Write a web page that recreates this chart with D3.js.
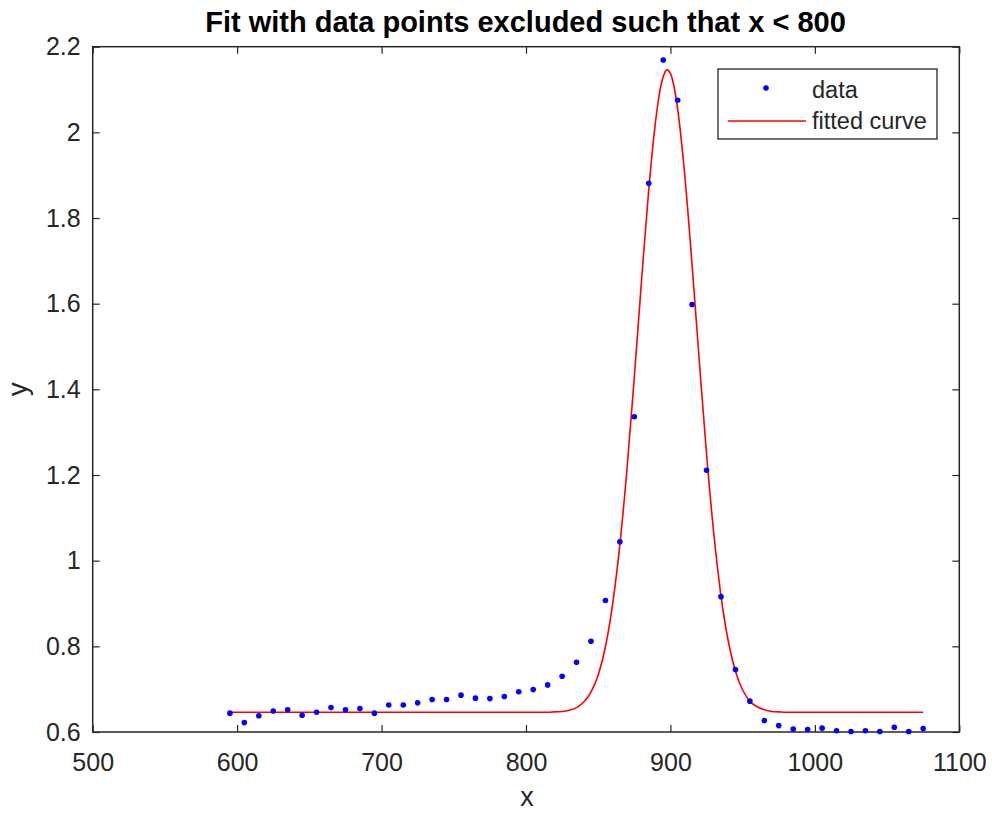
<!DOCTYPE html>
<html>
<head>
<meta charset="utf-8">
<script src="https://cdn.jsdelivr.net/npm/d3@7"></script>
<style>
  html, body { margin: 0; padding: 0; background: #ffffff; }
  svg { display: block; font-family: "Liberation Sans", Arial, Helvetica, sans-serif; }
</style>
</head>
<body>
<svg id="chart" width="992" height="813"></svg>
<script>
// ---- data ----
const dataX = [595, 605, 615, 625, 635, 645, 655, 665, 675, 685, 695, 705, 715, 725, 735, 745, 755, 765, 775, 785,
               795, 805, 815, 825, 835, 845, 855, 865, 875, 885, 895, 905, 915, 925, 935, 945, 955, 965, 975, 985,
               995, 1005, 1015, 1025, 1035, 1045, 1055, 1065, 1075];
const dataY = [0.644, 0.622, 0.638, 0.649, 0.652, 0.639, 0.646, 0.657, 0.652, 0.655, 0.644, 0.663, 0.663, 0.668, 0.676, 0.676, 0.686, 0.679, 0.678, 0.683,
               0.694, 0.699, 0.710, 0.730, 0.763, 0.812, 0.907, 1.044, 1.336, 1.881, 2.169, 2.075, 1.598, 1.211, 0.916, 0.746, 0.672, 0.627, 0.615, 0.607,
               0.606, 0.609, 0.603, 0.601, 0.603, 0.601, 0.611, 0.601, 0.608];

const fitX = [595, 700, 800, 810, 815, 820, 825, 830, 835, 840, 845, 850, 855, 860, 865, 870, 875, 880, 885, 890,
              892.5, 895, 897.5, 900, 902.5, 905, 910, 915, 920, 925, 930, 935, 940, 945, 950, 955, 960, 965, 970, 975,
              980, 985, 1000, 1075];
const fitY = [0.646, 0.646, 0.646, 0.646, 0.646, 0.647, 0.648, 0.651, 0.657, 0.670, 0.693, 0.733, 0.799, 0.899, 1.038, 1.217, 1.429, 1.654, 1.867, 2.034,
              2.093, 2.130, 2.146, 2.138, 2.107, 2.055, 1.897, 1.690, 1.465, 1.249, 1.064, 0.918, 0.813, 0.742, 0.698, 0.672, 0.659, 0.652, 0.648, 0.647,
              0.646, 0.646, 0.646, 0.646];

const xTicks = [500, 600, 700, 800, 900, 1000, 1100];
const yTicks = [0.6, 0.8, 1.0, 1.2, 1.4, 1.6, 1.8, 2.0, 2.2];
const yTickLabels = ["0.6", "0.8", "1", "1.2", "1.4", "1.6", "1.8", "2", "2.2"];
const titleText = "Fit with data points excluded such that x < 800";
const xLabel = "x";
const yLabel = "y";
const legendLabels = ["data", "fitted curve"];

// ---- layout ----
const W = 992, H = 813;
const pLeft = 92.7, pRight = 959.3, pTop = 46.7, pBottom = 732;
const axisColor = "#262626";

const svg = d3.select("#chart");
svg.append("rect").attr("width", W).attr("height", H).attr("fill", "#ffffff");

const x = d3.scaleLinear().domain([500, 1100]).range([pLeft, pRight]);
const y = d3.scaleLinear().domain([0.6, 2.2]).range([pBottom, pTop]);

function styleAxis(g, fs) {
  g.select(".domain").remove();
  g.selectAll(".tick line").attr("stroke", axisColor).attr("stroke-width", 1.2);
  g.selectAll(".tick text").attr("fill", axisColor).attr("font-size", fs)
    .attr("font-family", '"Liberation Sans", Arial, Helvetica, sans-serif');
}

const TL = 7;
// bottom axis
const gx = svg.append("g").attr("transform", `translate(0,${pBottom})`)
  .call(d3.axisBottom(x).tickValues(xTicks).tickSizeInner(-TL).tickSizeOuter(0).tickPadding(21).tickFormat(d3.format("d")));
styleAxis(gx, 25);
// top axis (ticks only)
const gxt = svg.append("g").attr("transform", `translate(0,${pTop})`)
  .call(d3.axisTop(x).tickValues(xTicks).tickSizeInner(-TL).tickSizeOuter(0).tickFormat(""));
styleAxis(gxt, 25);
// left axis
const gy = svg.append("g").attr("transform", `translate(${pLeft},0)`)
  .call(d3.axisLeft(y).tickValues(yTicks).tickSizeInner(-TL).tickSizeOuter(0).tickPadding(12)
    .tickFormat((d, i) => yTickLabels[i]));
styleAxis(gy, 25);
// right axis (ticks only)
const gyr = svg.append("g").attr("transform", `translate(${pRight},0)`)
  .call(d3.axisRight(y).tickValues(yTicks).tickSizeInner(-TL).tickSizeOuter(0).tickFormat(""));
styleAxis(gyr, 25);

// box
svg.append("rect")
  .attr("x", pLeft).attr("y", pTop)
  .attr("width", pRight - pLeft).attr("height", pBottom - pTop)
  .attr("fill", "none").attr("stroke", axisColor).attr("stroke-width", 1.5);

// fitted curve
const line = d3.line().x((d, i) => x(fitX[i])).y((d, i) => y(fitY[i])).curve(d3.curveMonotoneX);
svg.append("path")
  .attr("d", line(fitY))
  .attr("fill", "none").attr("stroke", "#ff0000").attr("stroke-width", 1.6);

// data points
svg.append("g").selectAll("circle")
  .data(dataY)
  .join("circle")
  .attr("cx", (d, i) => x(dataX[i]))
  .attr("cy", d => y(d))
  .attr("r", 2.8)
  .attr("fill", "#0000ff");

// title
svg.append("text")
  .attr("x", 525.5).attr("y", 32)
  .attr("text-anchor", "middle")
  .attr("font-size", 29).attr("font-weight", "bold").attr("fill", "#000000")
  .text(titleText);

// axis labels
svg.append("text")
  .attr("x", 527).attr("y", 806)
  .attr("text-anchor", "middle")
  .attr("font-size", 27).attr("fill", axisColor)
  .text(xLabel);
svg.append("text")
  .attr("transform", `translate(27,${(pTop + pBottom) / 2}) rotate(-90)`)
  .attr("text-anchor", "middle")
  .attr("font-size", 28).attr("fill", axisColor)
  .text(yLabel);

// legend
const lg = svg.append("g");
lg.append("rect")
  .attr("x", 718).attr("y", 69).attr("width", 219).attr("height", 70)
  .attr("fill", "#ffffff").attr("stroke", axisColor).attr("stroke-width", 1.3);
lg.append("circle").attr("cx", 766).attr("cy", 88).attr("r", 2.8).attr("fill", "#0000ff");
lg.append("line").attr("x1", 728).attr("x2", 806).attr("y1", 121).attr("y2", 121)
  .attr("stroke", "#ff0000").attr("stroke-width", 1.6);
lg.append("text").attr("x", 812).attr("y", 98).attr("font-size", 23.5).attr("fill", axisColor).text(legendLabels[0]);
lg.append("text").attr("x", 812).attr("y", 129).attr("font-size", 23.5).attr("fill", axisColor).text(legendLabels[1]);
</script>
</body>
</html>
